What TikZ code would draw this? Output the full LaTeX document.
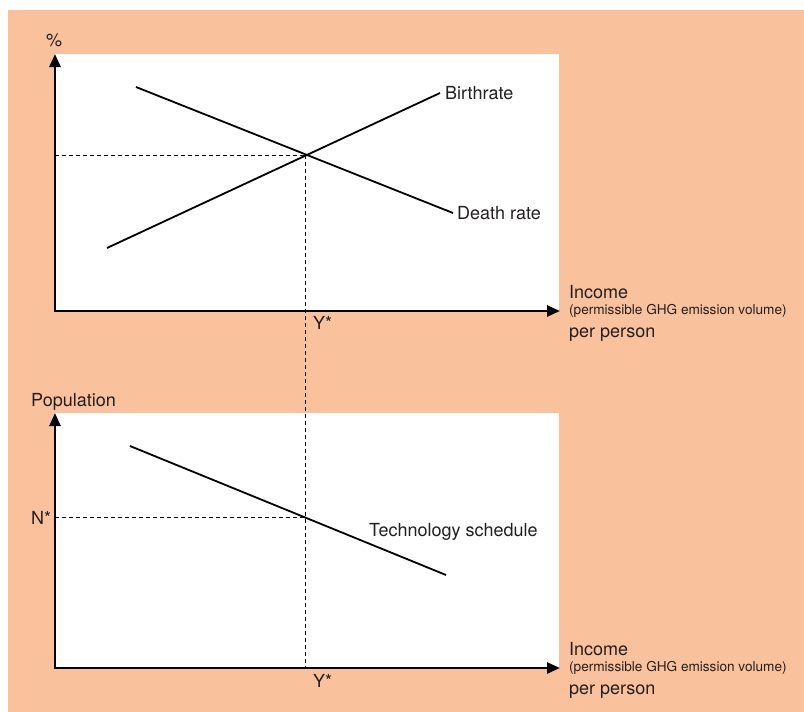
\documentclass[tikz,border=0pt]{standalone}
\usepackage{fontspec}
\setmainfont{TeX Gyre Heros}
\usetikzlibrary{arrows.meta}
\definecolor{peach}{RGB}{250,193,157}
\definecolor{ink}{RGB}{35,31,32}
\begin{document}
\begin{tikzpicture}[x=1pt,y=-1pt,
 axis/.style={line width=2.6pt,line join=miter,{Triangle[length=13pt,width=11pt]}-{Triangle[length=13pt,width=11pt]}},
 curve/.style={line width=1.8pt},
 guide/.style={line width=0.9pt,dash pattern=on 4pt off 3pt},
 lbl/.style={font=\fontsize{18}{20}\selectfont,text=ink,inner sep=0pt,anchor=base west},
 small/.style={font=\fontsize{13.6}{15}\selectfont,text=ink,inner sep=0pt,anchor=base west}]
\fill[white] (0,0) rectangle (804,712);
\useasboundingbox (0,0) rectangle (804,712);
\fill[peach] (8,10) rectangle (804,712);
% panels
\fill[white] (55,54) rectangle (559,311);
\fill[white] (55,413) rectangle (559,668);
% top chart
\coordinate (Y1) at (55,54);
\coordinate (O1) at (55,311);
\coordinate (X1) at (560,311);
\coordinate (B0) at (107,248);
\coordinate (B1) at (440,93);
\coordinate (D0) at (136,87);
\coordinate (D1) at (453,213);
\coordinate (P) at (305,155);
\coordinate (PL) at (55,155);
% bottom chart
\coordinate (Y2) at (55,413);
\coordinate (O2) at (55,668);
\coordinate (X2) at (560,668);
\coordinate (T0) at (130,446);
\coordinate (T1) at (446,575);
\coordinate (Q) at (305,517);
\coordinate (QL) at (55,517);
\coordinate (QB) at (305,668);
% guides
\draw[guide] (PL) -- (P);
\draw[guide] (P) -- (QB);
\draw[guide] (QL) -- (Q);
% curves
\draw[curve] (B0) -- (B1);
\draw[curve] (D0) -- (D1);
\draw[curve] (T0) -- (T1);
% axes
\draw[axis] (Y1) -- (O1) -- (X1);
\draw[axis] (Y2) -- (O2) -- (X2);
% labels top
\node[lbl] (pct) at (46,46) {\%};
\node[lbl] (birth) at (445,99) {Birthrate};
\node[lbl] (death) at (457,219) {Death rate};
\node[lbl] (inc1) at (569,298) {Income};
\node[small] (perm1) at (569,314) {(permissible GHG emission volume)};
\node[lbl] (pp1) at (569,337) {per person};
\node[lbl] (ys1) at (313,329) {Y*};
% labels bottom
\node[lbl] (pop) at (31,406) {Population};
\node[lbl] (ns) at (31,524) {N*};
\node[lbl] (tech) at (369,536) {Technology schedule};
\node[lbl] (inc2) at (569,655) {Income};
\node[small] (perm2) at (569,671) {(permissible GHG emission volume)};
\node[lbl] (pp2) at (569,694) {per person};
\node[lbl] (ys2) at (313,687) {Y*};
\end{tikzpicture}
\end{document}
